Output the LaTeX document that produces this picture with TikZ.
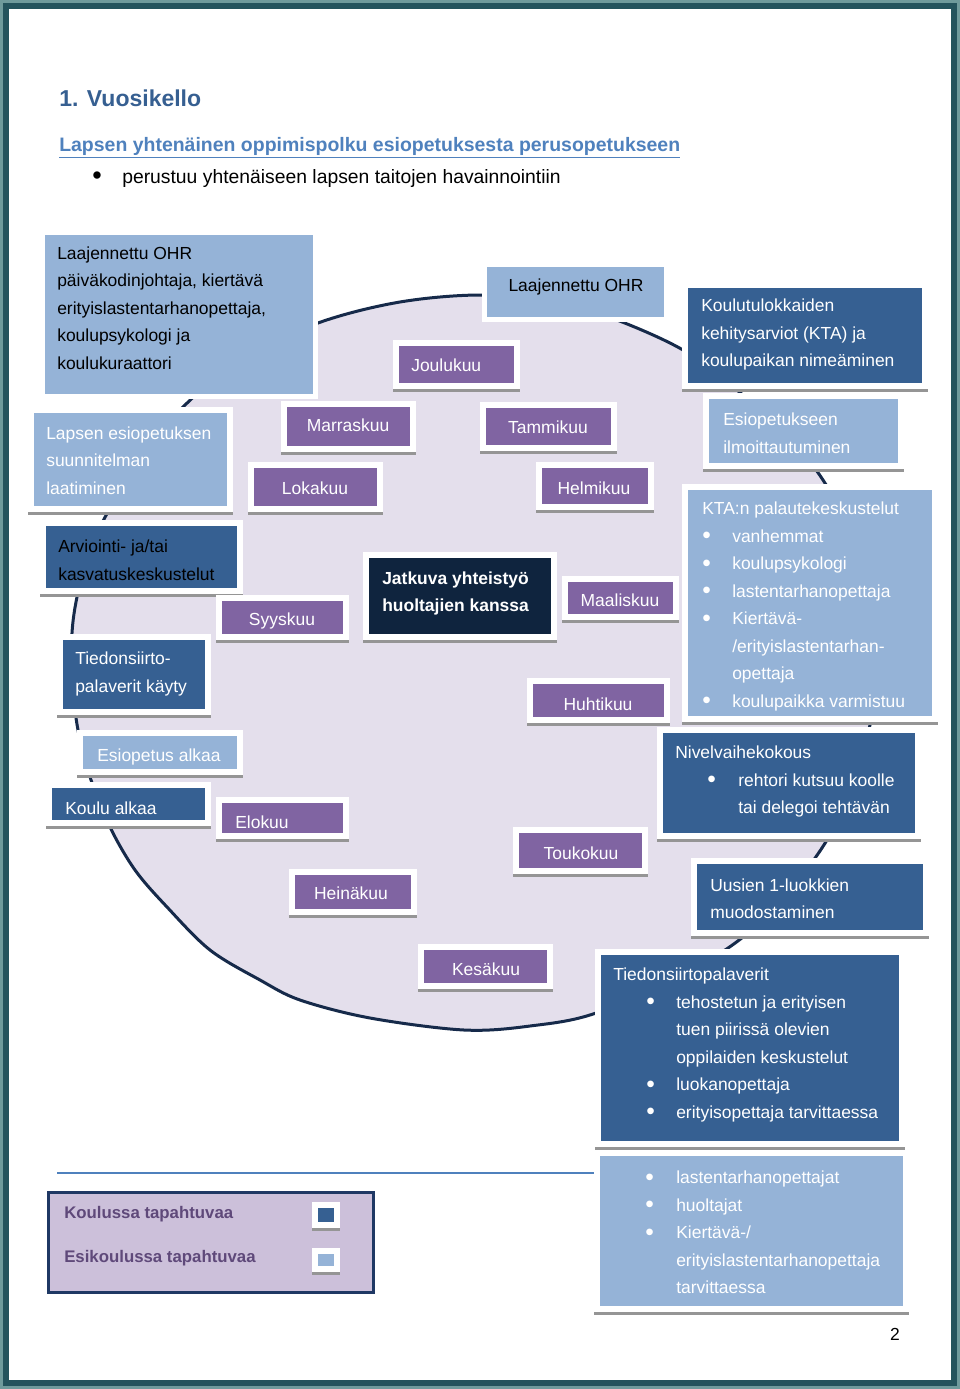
\documentclass[tikz,border=0pt]{standalone}
\usepackage{fontspec}
\usepackage{graphicx}
\setmainfont{Liberation Sans}
\usetikzlibrary{fit}
\definecolor{lblue}{HTML}{95B3D7}
\definecolor{dblue}{HTML}{366092}
\definecolor{mpurp}{HTML}{8064A2}
\definecolor{navyc}{HTML}{0F243E}
\definecolor{circfill}{HTML}{E4DFEC}
\definecolor{circline}{HTML}{162A4A}
\definecolor{shadowgray}{HTML}{959595}
\definecolor{titleblue}{HTML}{365F91}
\definecolor{linkblue}{HTML}{4F81BD}
\definecolor{legfill}{HTML}{CCC0DA}
\definecolor{legline}{HTML}{1F3864}
\definecolor{legtext}{HTML}{5F497A}
\definecolor{borderdark}{HTML}{24535D}
\definecolor{borderlight}{HTML}{6F9A9C}
\newcommand\boxfnt{\fontsize{13.1pt}{20.6pt}\selectfont}
\newcommand\bodyfnt{\fontsize{14.5pt}{18pt}\selectfont}
\newcommand\bul[1]{\makebox[#1][l]{\raisebox{-1.1pt}{\scalebox{1.4}{•}}}}
\newcommand\bx[6]{%
  \fill[white] ({#2-6},{#3-6}) rectangle ({#4+6},{#5+6});
  \draw[shline] ({#2-6},{#5+7.5}) -- ({#4+6},{#5+7.5});
  \node[cellbox, fill=#6, fit={(#2,#3) (#4,#5)}] (#1) {};}
\newcommand\bxn[6]{%
  \fill[white] ({#2-5},{#3-5}) rectangle ({#4+5},{#5+5});
  \node[cellbox, fill=#6, fit={(#2,#3) (#4,#5)}] (#1) {};}
\begin{document}
\begin{tikzpicture}[x=0.75pt,y=-0.75pt,
  txt/.style={inner sep=0pt, font=\boxfnt, align=left, anchor=west, text=white, yshift=-1.2pt},
  mon/.style={inner sep=0pt, font=\boxfnt, text=white, yshift=-1.2pt},
  cellbox/.style={rectangle, inner sep=0pt, draw=none},
  shline/.style={draw=shadowgray, line width=2.25pt},
  circ/.style={fill=circfill, draw=circline, line width=2.25pt},
  hrule/.style={draw=linkblue, line width=1.5pt}]
\useasboundingbox (0,0) rectangle (960,1389);
% page border
\fill[borderlight] (0,0) rectangle (960,1389);
\fill[borderdark] (3,3) rectangle (957,1386);
\fill[white] (9,9) rectangle (951,1380);
% header
\node[inner sep=0pt, anchor=west, text=titleblue, font=\fontsize{17.25pt}{20pt}\selectfont\bfseries] (title) at (59,98) {1. Vuosikello};
\node[inner sep=0pt, anchor=west, text=linkblue, font=\fontsize{14.6pt}{18pt}\selectfont\bfseries] (subtitle) at (59,148) {\underline{Lapsen yhtenäinen oppimispolku esiopetuksesta perusopetukseen}};
\node[inner sep=0pt, anchor=west, text=black, font=\bodyfnt] (intro) at (92,178) {\bul{22.5pt}perustuu yhtenäiseen lapsen taitojen havainnointiin};
% year circle
\draw[circ] plot[smooth cycle, tension=0.55] coordinates {
 (483,295) (560,303) (617,320) (683,350) (737,390) (790,440) (823,480)
 (855,540) (875,610) (877,680) (870,725) (850,790) (827,840) (790,890)
 (743,937) (690,970) (596,1013) (530,1026) (464,1030) (370,1018) (300,1000)
 (260,980) (210,950) (167,907) (135,870) (110,827) (90,777) (78,730)
 (72,680) (72,633) (77,597) (88,555) (102,523) (138,460) (183,407)
 (240,360) (318,323) (400,302)};
% boxes
\bxn{ohr}{45}{235}{313}{394}{lblue}
\bxn{ohrb}{487}{267}{664}{317}{lblue}
\bx{ktaa}{688}{288}{922}{383}{dblue}
\bx{jou}{399}{346}{514}{383}{mpurp}
\bx{esi}{709}{399}{898}{463}{lblue}
\bx{mar}{287}{407}{410}{446}{mpurp}
\bx{tam}{486}{408}{611}{445}{mpurp}
\bx{lap}{34}{413}{227}{506}{lblue}
\bx{lok}{254}{468}{377}{506}{mpurp}
\bx{hel}{542}{468}{648}{504}{mpurp}
\bx{ktan}{688}{490}{932}{716}{lblue}
\bx{arv}{46}{526}{237}{588}{dblue}
\bx{jat}{369}{558}{551}{634}{navyc}
\bx{maa}{568}{582}{673}{614}{mpurp}
\bx{syy}{222}{601}{343}{634}{mpurp}
\bx{tie}{63}{640}{205}{709}{dblue}
\bx{huh}{533}{684}{664}{717}{mpurp}
\bx{niv}{663}{733}{915}{833}{dblue}
\bx{eal}{83}{736}{237}{769}{lblue}
\bx{kal}{52}{788}{205}{820}{dblue}
\bx{elo}{222}{803}{343}{833}{mpurp}
\bx{tou}{519}{833}{642}{868}{mpurp}
\bx{uus}{697}{864}{923}{930}{dblue}
\bx{hei}{295}{875}{411}{909}{mpurp}
\bx{kes}{424}{950}{547}{983}{mpurp}
\bx{tsp}{601}{955}{899}{1141}{dblue}
\coordinate (hl) at (57,1173);
\draw[hrule] (hl) -- ++(537,0);
\bx{lst}{600}{1156}{903}{1306}{lblue}
% texts
\node[txt, text=black] (tohr) at (57,306.5) {Laajennettu OHR\\päiväkodinjohtaja, kiertävä\\erityislastentarhanopettaja,\\koulupsykologi ja\\koulukuraattori};
\node[mon, text=black] (tohrb) at (576,285) {Laajennettu OHR};
\node[txt] (tktaa) at (701,333) {Koulutulokkaiden\\kehitysarviot (KTA) ja\\koulupaikan nimeäminen};
\node[txt] (tjou) at (411,364) {Joulukuu};
\node[txt] (tesi) at (723,431.5) {Esiopetukseen\\ilmoittautuminen};
\node[mon] (tmar) at (348,424) {Marraskuu};
\node[mon] (ttam) at (548,426) {Tammikuu};
\node[txt] (tlap) at (46,459) {Lapsen esiopetuksen\\suunnitelman\\laatiminen};
\node[mon] (tlok) at (315,487) {Lokakuu};
\node[mon] (thel) at (594,487) {Helmikuu};
\node[txt] (tktan) at (702,605) {KTA:n palautekeskustelut\\\bul{22.5pt}vanhemmat\\\bul{22.5pt}koulupsykologi\\\bul{22.5pt}lastentarhanopettaja\\\bul{22.5pt}Kiertävä-\\\hspace*{22.5pt}/erityislastentarhan-\\\hspace*{22.5pt}opettaja\\\bul{22.5pt}koulupaikka varmistuu};
\node[txt, text=black] (tarv) at (58,558.5) {Arviointi- ja/tai\\kasvatuskeskustelut};
\node[txt, font=\boxfnt\bfseries] (tjat) at (382,592) {Jatkuva yhteistyö\\huoltajien kanssa};
\node[mon] (tmaa) at (620,599) {Maaliskuu};
\node[mon] (tsyy) at (282,619) {Syyskuu};
\node[txt] (ttie) at (75,672.5) {Tiedonsiirto-\\palaverit käyty};
\node[mon] (thuh) at (598,703) {Huhtikuu};
\node[txt] (tniv) at (675,780) {Nivelvaihekokous\\\hspace*{24pt}\bul{23.25pt}rehtori kutsuu koolle\\\hspace*{47.25pt}tai delegoi tehtävän};
\node[txt] (teal) at (97,755) {Esiopetus alkaa};
\node[txt] (tkal) at (65,807) {Koulu alkaa};
\node[txt] (telo) at (235,821) {Elokuu};
\node[mon] (ttou) at (581,852) {Toukokuu};
\node[txt] (tuus) at (710,897) {Uusien 1-luokkien\\muodostaminen};
\node[mon] (thei) at (351,892) {Heinäkuu};
\node[mon] (tkes) at (486,968) {Kesäkuu};
\node[txt] (ttsp) at (613,1043.5) {Tiedonsiirtopalaverit\\\hspace*{24.75pt}\bul{22.5pt}tehostetun ja erityisen\\\hspace*{47.25pt}tuen piirissä olevien\\\hspace*{47.25pt}oppilaiden keskustelut\\\hspace*{24.75pt}\bul{22.5pt}luokanopettaja\\\hspace*{24.75pt}\bul{22.5pt}erityisopettaja tarvittaessa};
\node[txt] (tlst) at (645,1231) {\bul{23.25pt}lastentarhanopettajat\\\bul{23.25pt}huoltajat\\\bul{23.25pt}Kiertävä-/\\\hspace*{23.25pt}erityislastentarhanopettaja\\\hspace*{23.25pt}tarvittaessa};
% legend
\node[fill=legfill, draw=legline, line width=2.25pt, fit={(48,1192) (373,1292)}, inner sep=0pt] (legend) {};
\bx{lga}{318}{1208}{334}{1222}{dblue}
\bx{lgb}{318}{1254}{334}{1266}{lblue}
\node[txt, text=legtext, font=\fontsize{12.6pt}{20pt}\selectfont\bfseries] (tlga) at (64,1213) {Koulussa tapahtuvaa};
\node[txt, text=legtext, font=\fontsize{12.6pt}{20pt}\selectfont\bfseries] (tlgb) at (64,1257) {Esikoulussa tapahtuvaa};
\node[mon, text=black] (pnum) at (895,1333) {2};
\end{tikzpicture}
\end{document}
